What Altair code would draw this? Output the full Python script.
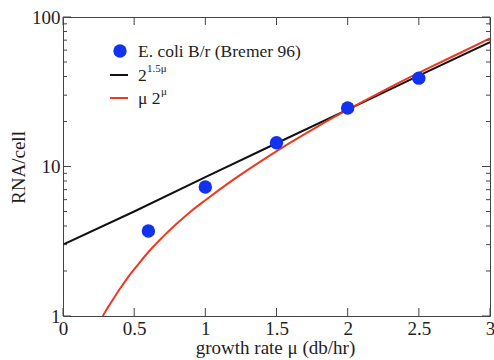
import altair as alt
import pandas as pd

# data
pts_x = [0.6, 1.0, 1.5, 2.0, 2.5]
pts_y = [3.7, 7.3, 14.4, 24.6, 39.0]

black_x = [0.0, 0.5, 1.0, 1.5, 2.0, 2.5, 3.0]
black_y = [3.0, 5.0, 8.5, 14.3, 24.0, 40.5, 68.0]

red_x = [0.28, 0.3, 0.33, 0.36, 0.4, 0.45, 0.5, 0.55, 0.6, 0.7, 0.8, 0.9, 1.0, 1.2, 1.4,
         1.6, 1.8, 2.0, 2.2, 2.4, 2.6, 2.8, 3.0]
red_y = [1.0, 1.08, 1.2, 1.33, 1.52, 1.78, 2.05, 2.35, 2.68, 3.37, 4.15, 5.02, 5.95, 8.2,
         11.0, 14.5, 18.8, 24.0, 30.3, 38.0, 47.1, 58.1, 72.0]

x_ticks = [0, 0.5, 1, 1.5, 2, 2.5, 3]
y_major = [1, 10, 100]
y_minor = [2, 3, 4, 5, 6, 7, 8, 9, 20, 30, 40, 50, 60, 70, 80, 90]

W, H = 427, 299
FONT = "Liberation Serif"
TXT = "#1e1e1e"
BLUE = "#1232f0"
RED = "#ea3a22"

xs = alt.Scale(domain=[0, 3], nice=False, zero=False)
ys = alt.Scale(type="log", domain=[1, 100], nice=False)

pts = pd.DataFrame({"x": pts_x, "y": pts_y})
blk = pd.DataFrame({"x": black_x, "y": black_y})
red = pd.DataFrame({"x": red_x, "y": red_y})

xaxis = alt.Axis(values=x_ticks, format="~g", ticks=False, domain=False, grid=False,
                 labelFont=FONT, labelFontSize=19, labelColor=TXT, labelPadding=3,
                 labelFlush=False, labelOverlap=False,
                 title="growth rate μ (db/hr)", titleFont=FONT, titleFontSize=19,
                 titleFontWeight="normal", titleColor=TXT, titleX=212, titleY=31,
                 titleBaseline="middle")
yaxis = alt.Axis(values=y_major, format="d", ticks=False, domain=False, grid=False,
                 labelFont=FONT, labelFontSize=19, labelColor=TXT, labelPadding=3,
                 labelFlush=False, labelOverlap=False,
                 title="RNA/cell", titleFont=FONT, titleFontSize=19,
                 titleFontWeight="normal", titleColor=TXT, titleX=-45, titleY=150,
                 titleBaseline="middle", titleAngle=270)

X = lambda f: alt.X(f, scale=xs, axis=xaxis)
Y = lambda f: alt.Y(f, scale=ys, axis=yaxis)

black_line = alt.Chart(blk).mark_line(color="#111111", strokeWidth=2, clip=True).encode(
    x=X("x:Q"), y=Y("y:Q"))
red_line = alt.Chart(red).mark_line(color=RED, strokeWidth=2, clip=True,
                                    interpolate="monotone").encode(
    x=X("x:Q"), y=Y("y:Q"))
points = alt.Chart(pts).mark_circle(color=BLUE, size=180, opacity=1).encode(
    x=X("x:Q"), y=Y("y:Q"))

tick_col = "#444444"
xt = pd.DataFrame({"v": x_ticks})
ymj = pd.DataFrame({"v": y_major})
ymn = pd.DataFrame({"v": y_minor})

def xtick(y0, y1):
    return alt.Chart(xt).mark_rule(color=tick_col, strokeWidth=1).encode(
        x=X("v:Q"), y=alt.value(y0), y2=alt.value(y1))

def ytick(df, x0, x1):
    return alt.Chart(df).mark_rule(color=tick_col, strokeWidth=1).encode(
        y=Y("v:Q"), x=alt.value(x0), x2=alt.value(x1))

ticks = [
    xtick(H - 8, H), xtick(0, 8),
    ytick(ymj, 0, 8), ytick(ymj, W - 8, W),
    ytick(ymn, 0, 4), ytick(ymn, W - 4, W),
]

one = pd.DataFrame({"a": [0]})
LX = 47  # legend symbol left relative to plot left
TX = 75  # legend text start

leg = [
    alt.Chart(one).mark_circle(color=BLUE, size=180, opacity=1).encode(
        x=alt.value(LX + 10), y=alt.value(34)),
    alt.Chart(one).mark_text(text="E. coli B/r (Bremer 96)", font=FONT, fontSize=17.5,
                             align="left", baseline="middle", color=TXT).encode(
        x=alt.value(TX), y=alt.value(35)),
    alt.Chart(one).mark_rule(color="#111111", strokeWidth=2).encode(
        x=alt.value(LX), x2=alt.value(LX + 18), y=alt.value(58)),
    alt.Chart(one).mark_text(text="2", font=FONT, fontSize=17.5, align="left",
                             baseline="middle", color=TXT).encode(
        x=alt.value(TX), y=alt.value(59)),
    alt.Chart(one).mark_text(text="1.5μ", font=FONT, fontSize=11, align="left",
                             baseline="middle", color=TXT).encode(
        x=alt.value(TX + 9), y=alt.value(52)),
    alt.Chart(one).mark_rule(color=RED, strokeWidth=2).encode(
        x=alt.value(LX), x2=alt.value(LX + 18), y=alt.value(81)),
    alt.Chart(one).mark_text(text="μ 2", font=FONT, fontSize=17.5, align="left",
                             baseline="middle", color=TXT).encode(
        x=alt.value(TX), y=alt.value(82)),
    alt.Chart(one).mark_text(text="μ", font=FONT, fontSize=11, align="left",
                             baseline="middle", color=TXT).encode(
        x=alt.value(TX + 23), y=alt.value(75)),
]

chart = alt.layer(black_line, red_line, points, *ticks, *leg).properties(
    width=W, height=H,
    autosize=alt.AutoSizeParams(type="none"),
    padding={"left": 63, "top": 17, "right": 4, "bottom": 44},
    background="white",
).configure_view(stroke="#444444", strokeWidth=1)

chart.save("out.html", embed_options={"renderer": "svg", "actions": False})
